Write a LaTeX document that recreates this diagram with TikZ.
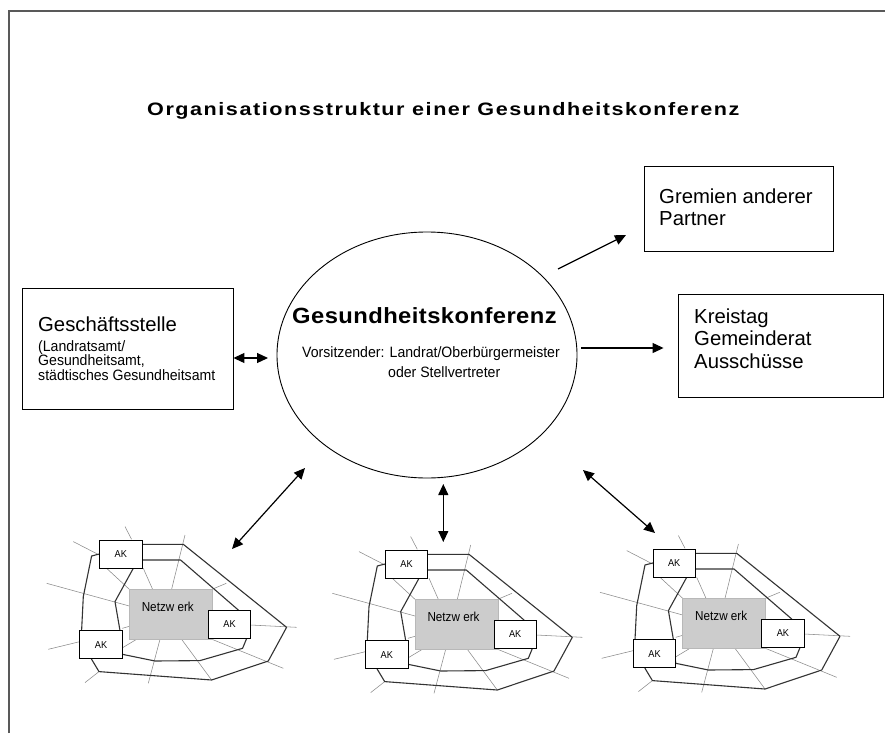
\documentclass[tikz,border=0pt]{standalone}
\usepackage{fontspec}
\setmainfont{Liberation Sans}
\usetikzlibrary{arrows.meta,shapes.geometric}
\tikzset{
  frameline/.style={line width=1.4pt, black!65},
  box/.style={draw, rectangle, line width=0.9pt, inner sep=0pt},
  ellbox/.style={draw, ellipse, line width=0.9pt, inner sep=0pt},
  txt/.style={anchor=base west, inner sep=0pt},
  titlefont/.style={font=\fontsize{18}{20}\selectfont\bfseries\addfontfeature{FakeStretch=1.2,LetterSpace=8.5}},
  headfont/.style={font=\fontsize{22}{24}\selectfont\bfseries\addfontfeature{FakeStretch=1.08,LetterSpace=2}},
  bigfont/.style={font=\fontsize{20.3}{22.6}\selectfont},
  smallfont/.style={font=\fontsize{15}{14.3}\selectfont\addfontfeature{FakeStretch=0.94}},
  arr/.style={line width=1.2pt, -{Triangle[length=11pt,width=10pt]}},
  dbl/.style={line width=1.2pt, {Triangle[length=11pt,width=10pt]}-{Triangle[length=11pt,width=10pt]}},
  ring/.style={line width=1.1pt, black!80, line join=round},
  spoke/.style={line width=0.55pt, black!45},
  netrect/.style={fill=black!20, draw=black!28, line width=0.6pt, minimum width=83pt, minimum height=50pt, inner sep=0pt},
  akbox/.style={draw, fill=white, line width=0.9pt, minimum width=42.5pt, minimum height=28pt, inner sep=0pt,
                font=\fontsize{10}{11}\selectfont\addfontfeature{FakeStretch=0.92}},
  netfont/.style={font=\fontsize{13}{14}\selectfont\addfontfeature{FakeStretch=0.9}}
}
\begin{document}
\begin{tikzpicture}[x=1pt,y=-1pt]
\useasboundingbox (0,0) rectangle (885,733);
\fill[white] (0,0) rectangle (885,733);

% page frame (top and left edges)
\coordinate (fbl) at (9,733);
\coordinate (ftl) at (9,11);
\coordinate (ftr) at (885,11);
\draw[frameline] (fbl) -- (ftl) -- (ftr);

% title
\node[txt, titlefont] (title) at (147,115) {Organisationsstruktur einer Gesundheitskonferenz};

% central ellipse
\node[ellbox, minimum width=300pt, minimum height=246pt] (gk) at (427,355) {};
\node[txt, headfont] (gkhead) at (292,323) {Gesundheitskonferenz};
\node[txt, smallfont] (gksub1) at (302,357) {Vorsitzender: Landrat/Oberbürgermeister};
\node[txt, smallfont] (gksub2) at (388,377) {oder Stellvertreter};

% Geschäftsstelle
\node[box, minimum width=211pt, minimum height=121pt] (gs) at (127.5,348.5) {};
\node[txt, bigfont] (gst1) at (38,331.5) {Geschäftsstelle};
\node[txt, smallfont, align=left] (gst2) at (38,380.1) {(Landratsamt/\\Gesundheitsamt,\\städtisches Gesundheitsamt};

% Gremien anderer Partner
\node[box, minimum width=189pt, minimum height=85pt] (gr) at (738.5,208.5) {};
\node[txt, bigfont, align=left] (grt) at (659,225.6) {Gremien anderer\\Partner};

% Kreistag
\node[box, minimum width=205pt, minimum height=103pt] (kt) at (780.5,345.5) {};
\node[txt, bigfont, align=left] (ktt) at (694,368.5) {Kreistag\\Gemeinderat\\Ausschüsse};

% arrows around the ellipse
\coordinate (egs) at (268,358);
\draw[dbl] (gs.east |- egs) -- (egs);
\coordinate (egr) at (558,269);
\coordinate (grin) at (626,235);
\draw[arr] (egr) -- (grin);
\coordinate (ekt) at (581,348);
\draw[arr, shorten >=14pt] (ekt) -- (kt.west |- ekt);

% networks
\foreach \n/\ox/\oy in {1/129.3/589.3, 2/415/599.3, 3/682.7/598.3}{
\begin{scope}[shift={(\ox,\oy)}]
  % thin radial lines
  \draw[spoke] (-4.3,-62.7) -- (2.3,-50);
  \draw[spoke] (-56,-47.7) -- (-30,-34.3);
  \draw[spoke] (-82.7,-6) -- (0,16.7);
  \draw[spoke] (-81,60) -- (-49.3,52.3);
  \draw[spoke] (55.7,-54.3) -- (42.3,0);
  \draw[spoke] (-22.7,-21) -- (0,0);
  \draw[spoke] (14,-21) -- (23.3,0);
  \draw[spoke] (82.7,0) -- (97,-6);
  \draw[spoke] (121.3,35.7) -- (167.3,38);
  \draw[spoke] (82.7,50) -- (154,79);
  \draw[spoke] (52.3,50) -- (82.3,90.7);
  \draw[spoke] (30.7,50) -- (19,94);
  \draw[spoke] (7.3,50) -- (-7.7,59);
  \draw[spoke] (-30.3,82.3) -- (-44.3,93.3);
  \draw[spoke] (-7,39) -- (0,37);
  % outer ring
  \draw[ring] (-37.7,-33.3) -- (-30,-35.3) -- (0,-45) -- (54,-45) -- (157.3,38) -- (139,71.7)
     -- (82.3,90.7) -- (-30.3,82.3) -- (-37.7,70) -- (-40,60) -- (-47.7,41.3) -- (-46,7.3) -- cycle;
  % inner ring
  \draw[ring] (4,-21) -- (-14.3,12.3) -- (-9.3,41.3) -- (-8,55) -- (-7,65) -- (25.7,71.7)
     -- (70.7,71.3) -- (113.3,59) -- (117.3,49.3) -- (110,35) -- (109,20.7) -- (51.3,-29.3)
     -- (13,-29.3) -- (5,-25) -- cycle;
  % network centre and working groups
  \node[netrect] (net\n) at (41.5,25) {};
  \node[txt, netfont] (netlabel\n) at (12.3,22.3) {Netzw erk};
  \node[akbox] (aktl\n) at (-8.5,-35.2) {AK};
  \node[akbox] (akr\n) at (100.2,35) {AK};
  \node[akbox] (akbl\n) at (-28.2,55.3) {AK};
\end{scope}
}

% arrows to the networks
\coordinate (eb1) at (305,468);
\coordinate (nb1) at (232,549);
\draw[dbl] (eb1) -- (nb1);
\coordinate (eb2) at (443.3,484);
\coordinate (nb2) at (443.3,542);
\draw[dbl] (eb2) -- (nb2);
\coordinate (eb3) at (583,470);
\coordinate (nb3) at (655,533);
\draw[dbl] (eb3) -- (nb3);
\end{tikzpicture}
\end{document}
